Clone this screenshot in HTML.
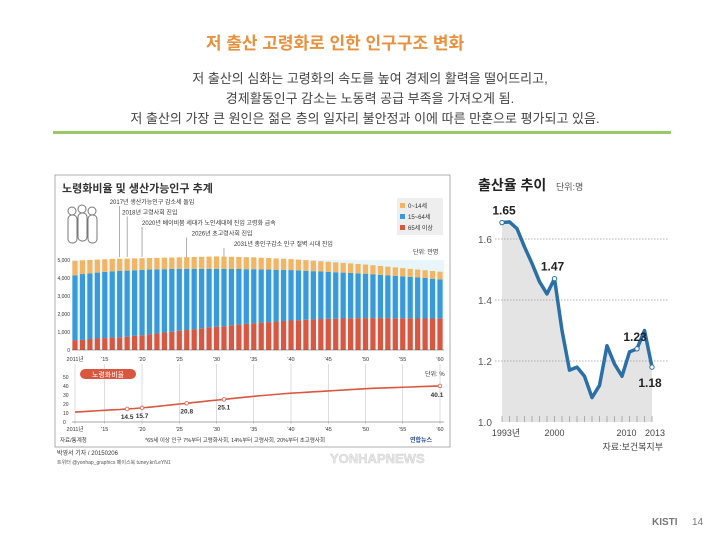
<!DOCTYPE html>
<html><head><meta charset="utf-8"><style>
html,body{margin:0;padding:0;background:#fff}
svg{display:block;font-family:"Liberation Sans","Noto Sans CJK KR",sans-serif}
</style></head><body>
<svg id="s" width="720" height="540" viewBox="0 0 720 540" xmlns="http://www.w3.org/2000/svg">
<text x="335" y="49" text-anchor="middle" font-size="17" font-weight="bold" fill="#e8913e">저 출산 고령화로 인한 인구구조 변화</text>
<g font-size="13" fill="#444" text-anchor="middle">
<text x="370" y="83">저 출산의 심화는 고령화의 속도를 높여 경제의 활력을 떨어뜨리고,</text>
<text x="370" y="103">경제활동인구 감소는 노동력 공급 부족을 가져오게 됨.</text>
<text x="365" y="123">저 출산의 가장 큰 원인은 젊은 층의 일자리 불안정과 이에 따른 만혼으로 평가되고 있음.</text>
</g>
<rect x="53" y="131" width="618" height="3" fill="#9bc866"/>

<g>
<rect x="55" y="175" width="395" height="272" fill="#fff" stroke="#999" stroke-width="0.8"/>
<text x="62" y="192" font-size="11" font-weight="bold" fill="#333">노령화비율 및 생산가능인구 추계</text>
<g fill="#fff" stroke="#777" stroke-width="1">
<rect x="68" y="215" width="9" height="28" rx="4"/><circle cx="72" cy="211" r="4"/>
<rect x="78" y="213" width="9" height="28" rx="4"/><circle cx="82" cy="209" r="4"/>
<rect x="88" y="215" width="9" height="28" rx="4"/><circle cx="92" cy="211" r="4"/>
</g>
<g font-size="6" fill="#333">
<rect x="397" y="198" width="46" height="37" fill="#eee"/>
<rect x="400" y="203" width="5" height="5" fill="#f3b562"/><text x="408" y="208">0~14세</text>
<rect x="400" y="214" width="5" height="5" fill="#3a9ad9"/><text x="408" y="219">15~64세</text>
<rect x="400" y="225" width="5" height="5" fill="#d9573f"/><text x="408" y="230">65세 이상</text>
</g>
<g id="ann" font-size="6" fill="#333"></g>
<text x="413" y="254" font-size="6" fill="#333">단위: 만명</text>
<g id="bars"></g>
<g id="ratio"></g>
<text x="60" y="442" font-size="5.5" fill="#333">자료/통계청</text>
<text x="145" y="442" font-size="5.5" fill="#333">*65세 이상 인구 7%부터 고령화사회, 14%부터 고령사회, 20%부터 초고령사회</text>
<text x="410" y="442" font-size="6" font-weight="bold" fill="#2a4f9a">연합뉴스</text>
</g>
<text x="57" y="455" font-size="6" fill="#333">박영서 기자 / 20150206</text>
<text x="57" y="464" font-size="5" fill="#555">트위터 @yonhap_graphics 페이스북 tuney.kr/LeYN1</text>
<text x="330" y="463" font-size="13" font-weight="bold" fill="#e6e6e6" stroke="#d0d0d0" stroke-width="0.5">YONHAPNEWS</text>

<g>
<text x="478" y="190" font-size="14" font-weight="bold" fill="#222">출산율 추이</text>
<text x="556" y="190" font-size="9" fill="#555">단위:명</text>
<g id="birth"></g>
<text x="663" y="450" font-size="9" fill="#444" text-anchor="end">자료:보건복지부</text>
</g>
<text x="652" y="525" font-size="10" font-weight="bold" fill="#777">KISTI</text>
<text x="692" y="525" font-size="10" fill="#777">14</text>
</svg>
<script>
const years = [];for(let y=2011;y<=2060;y++)years.push(y);
const elderly=[550,560,610,640,660,690,710,740,790,820,870,920,970,1020,1070,1110,1160,1210,1260,1290,1320,1370,1410,1450,1490,1520,1550,1580,1610,1640,1660,1680,1700,1720,1730,1740,1750,1760,1770,1770,1770,1770,1770,1760,1760,1760,1750,1750,1750,1760];
const working=[3600,3660,3650,3660,3680,3680,3680,3670,3640,3630,3600,3560,3520,3480,3440,3400,3350,3300,3250,3220,3180,3130,3090,3040,3000,2960,2920,2880,2840,2800,2760,2720,2680,2640,2610,2580,2550,2520,2490,2470,2440,2410,2380,2360,2330,2300,2280,2250,2210,2160];
const children=[800,760,740,720,700,690,680,670,660,650,640,640,640,640,640,650,660,670,680,690,690,680,670,670,660,650,640,630,620,610,600,590,580,570,560,550,540,530,520,510,500,490,480,470,460,450,440,430,430,430];
const popTicks=[0,1000,2000,3000,4000,5000];
const popTickLabels=["0","1,000","2,000","3,000","4,000","5,000"];
const xTickYears=[2011,2015,2020,2025,2030,2035,2040,2045,2050,2055,2060];
const xTickLabels=["2011년","'15","'20","'25","'30","'35","'40","'45","'50","'55","'60"];
const agingRatio=[11.0,11.5,12.0,12.5,13.0,13.5,13.9,14.5,15.0,15.7,16.5,17.3,18.2,19.1,20.0,20.8,21.7,22.6,23.5,24.3,25.1,26.0,26.9,27.7,28.5,29.3,30.0,30.7,31.4,32.0,32.5,33.0,33.5,34.0,34.5,35.0,35.5,36.0,36.5,37.0,37.4,37.7,38.0,38.3,38.6,38.9,39.2,39.5,39.8,40.1];
const ratioLabelYears=[2018,2020,2026,2031,2060];
const ratioTicks=[0,10,20,30,40,50];
const annTexts=["2017년 생산가능인구 감소세 돌입","2018년 고령사회 진입","2020년 베이비붐 세대가 노인세대에 진입 고령화 급속","2026년 초고령사회 진입","2031년 총인구감소 인구 절벽 시대 진입"];
const annYears=[2017,2018,2020,2026,2031];
const birthYears=[];for(let y=1993;y<=2013;y++)birthYears.push(y);
const birthRate=[1.654,1.656,1.634,1.574,1.52,1.46,1.42,1.47,1.30,1.17,1.18,1.15,1.08,1.12,1.25,1.19,1.15,1.23,1.24,1.30,1.18];
const birthTicks=[1.0,1.2,1.4,1.6];
const birthLabelYears=[1993,2000,2011,2013];
const birthLabelText=["1.65","1.47","1.23","1.18"];
const birthXLabels=[[1993,"1993년"],[2000,"2000"],[2010,"2010"],[2013,"2013"]];

const NS="http://www.w3.org/2000/svg";
function mk(p,t,a,txt){const e=document.createElementNS(NS,t);for(const k in a)e.setAttribute(k,a[k]);if(txt!==undefined)e.textContent=txt;p.appendChild(e);return e;}
const bx=y=>75+(y-2011)*365/49;
const by=v=>350-v*0.018;
const ry=v=>422-v*0.9;

const ann=document.getElementById('ann');
annYears.forEach((yr,i)=>{const ty=204+i*10.5;
 const l=mk(ann,'line',{x1:bx(yr),x2:bx(yr),y1:ty+2,y2:257,stroke:'#777','stroke-width':0.6});
 
 
 const t=mk(ann,'text',{x:bx(yr)-10+i*5,y:ty},annTexts[i]);
 
 
});

const bars=document.getElementById('bars');
mk(bars,'rect',{x:72,y:by(5000),width:372,height:by(0)-by(5000),fill:'#e8f6fb'});
popTicks.forEach((v,i)=>{const t=mk(bars,'text',{x:70,y:by(v)+2,'font-size':5,'text-anchor':'end',fill:'#333'},popTickLabels[i]);
 
 });
years.forEach((yr,i)=>{const x=bx(yr)-2.6,w=5.2;
 let b=0;
 [[elderly[i],'#d9573f','bar-elderly'],[working[i],'#3a9ad9','bar-working'],[children[i],'#f3b562','bar-children']].forEach(([v,c,n])=>{
  const r=mk(bars,'rect',{x:x,y:by(b+v),width:w,height:by(b)-by(b+v),fill:c});
  
  
  b+=v;});
});
mk(bars,'line',{x1:72,x2:444,y1:by(0),y2:by(0),stroke:'#555','stroke-width':0.6});
xTickYears.forEach((yr,i)=>{
 const t=mk(bars,'text',{x:bx(yr),y:361,'font-size':5.5,'text-anchor':'middle',fill:'#333'},xTickLabels[i]);
 
 
 const t2=mk(bars,'text',{x:bx(yr),y:431,'font-size':5.5,'text-anchor':'middle',fill:'#333'},xTickLabels[i]);
 
 
 mk(bars,'line',{x1:bx(yr),x2:bx(yr),y1:364,y2:424,stroke:'#bbb','stroke-width':0.5});
});

const rg=document.getElementById('ratio');
const pill=mk(rg,'rect',{x:80,y:369,width:56,height:10,rx:5,fill:'#d9573f'});


mk(rg,'text',{x:108,y:377,'font-size':7,'text-anchor':'middle',fill:'#fff'},'노령화비율');
mk(rg,'text',{x:425,y:376,'font-size':6,fill:'#333'},'단위: %');
ratioTicks.forEach(v=>{const t=mk(rg,'text',{x:63,y:ry(v)+2,'font-size':5,fill:'#333'},String(v));
 
 });
mk(rg,'line',{x1:72,x2:444,y1:ry(0),y2:ry(0),stroke:'#555','stroke-width':0.6});
const rl=mk(rg,'polyline',{points:years.map((y,i)=>bx(y)+','+ry(agingRatio[i])).join(' '),fill:'none',stroke:'#d9573f','stroke-width':1.6});


ratioLabelYears.forEach(yr=>{const i=yr-2011;
 const c=mk(rg,'circle',{cx:bx(yr),cy:ry(agingRatio[i]),r:1.8,fill:'#fff',stroke:'#d9573f','stroke-width':0.8});
 
 
 const t=mk(rg,'text',{x:bx(yr)+(yr==2060?-3:0),y:ry(agingRatio[i])+(yr==2060?11:10),'font-size':6.5,'font-weight':'bold','text-anchor':'middle',fill:'#333'},agingRatio[i].toFixed(1));
 
 });

const bg=document.getElementById('birth');
const cx=y=>502+(y-1993)*7.5;
const cy=v=>422-(v-1.0)*305;
const pts=birthYears.map((y,i)=>cx(y)+','+cy(birthRate[i]));
mk(bg,'polygon',{points:cx(1993)+','+cy(1.0)+' '+pts.join(' ')+' '+cx(2013)+','+cy(1.0),fill:'#e4e4e4'});
birthTicks.forEach(v=>{
 if(v>1.0)mk(bg,'line',{x1:495,x2:668,y1:cy(v),y2:cy(v),stroke:'#999','stroke-width':0.7,'stroke-dasharray':'1.5,1.5'});
 const t=mk(bg,'text',{x:478,y:cy(v)+4,'font-size':10,fill:'#555'},v.toFixed(1));
 
 });
birthYears.forEach(y=>mk(bg,'line',{x1:cx(y),x2:cx(y),y1:cy(1.0)-6,y2:cy(1.0),stroke:'#888','stroke-width':0.6}));
const bl=mk(bg,'polyline',{points:pts.join(' '),fill:'none',stroke:'#2a6fa8','stroke-width':3.5,'stroke-linejoin':'round'});


birthLabelYears.forEach((yr,j)=>{const i=yr-1993;
 const c=mk(bg,'circle',{cx:cx(yr),cy:cy(birthRate[i]),r:2.2,fill:'#fff',stroke:'#2a6fa8','stroke-width':1});
 
 
 const dy=(yr==2013)?20:-8;
 const t=mk(bg,'text',{x:cx(yr)-(yr==1993?-2:2),y:cy(birthRate[i])+dy,'font-size':12,'font-weight':'bold','text-anchor':'middle',fill:'#222'},birthLabelText[j]);
 
 });
birthXLabels.forEach(([yr,l])=>{const off=yr==1993?4:(yr==2010?-3:(yr==2013?3:0));
 const t=mk(bg,'text',{x:cx(yr)+off,y:436,'font-size':9,'text-anchor':'middle',fill:'#444'},l);
 
 });
</script>
</body></html>
